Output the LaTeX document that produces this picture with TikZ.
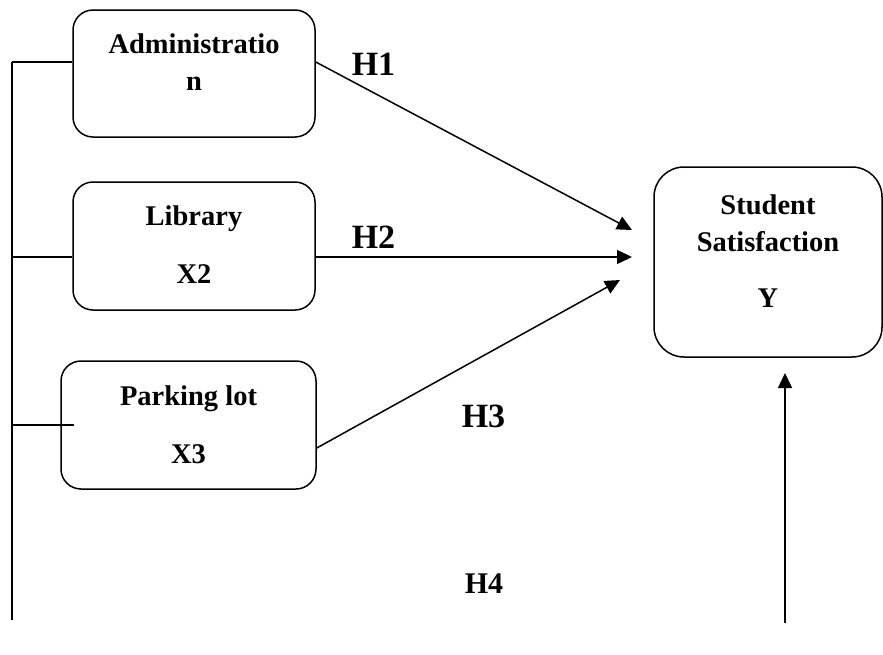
\documentclass[tikz,border=0pt]{standalone}
\usepackage{fontspec}
\setmainfont{Liberation Serif}
\usetikzlibrary{arrows.meta, positioning, calc}

\begin{document}
\begin{tikzpicture}[
    x=1pt, y=-1pt,
    box/.style={rectangle, draw=black, line width=1.5pt, rounded corners=20pt, inner sep=0pt},
    boxtext/.style={anchor=base, inner sep=0pt, font=\fontsize{28.5}{34}\selectfont\bfseries},
    hyp/.style={anchor=base, inner sep=0pt, font=\fontsize{34}{40}\selectfont\bfseries},
    line/.style={line width=1.5pt},
    arrow/.style={-{Triangle[length=15pt, width=14pt]}, line width=1.5pt}
]
    \useasboundingbox (0,0) rectangle (883,654);

    % Boxes
    \node[box, minimum width=242pt, minimum height=127pt] (adm) at (194,73.5) {};
    \node[box, minimum width=242pt, minimum height=128pt] (lib) at (194,246) {};
    \node[box, minimum width=255pt, minimum height=128pt] (park) at (188.5,425) {};
    \node[box, rounded corners=30pt, minimum width=228pt, minimum height=190pt] (sat) at (768,262) {};

    % Box texts
    \node[boxtext] (admtxt) at (194,53) {Administratio};
    \node[boxtext] (admtxtb) at (194,90) {n};
    \node[boxtext] (libtxt) at (194,225) {Library};
    \node[boxtext] (libvar) at (194,283) {X2};
    \node[boxtext] (parktxt) at (188.5,405) {Parking lot};
    \node[boxtext] (parkvar) at (188.5,463) {X3};
    \node[boxtext] (sattxt) at (768,214) {Student};
    \node[boxtext] (sattxtb) at (768,251) {Satisfaction};
    \node[boxtext] (satvar) at (768,307) {Y};

    % Hypothesis labels
    \node[hyp] (h1) at (373.5,75) {H1};
    \node[hyp] (h2) at (373.5,248) {H2};
    \node[hyp] (h3) at (483.5,427) {H3};
    \node[hyp, font=\fontsize{30}{36}\selectfont\bfseries] (h4) at (484,593) {H4};

    % Arrow ends
    \coordinate (tip1) at (632,230);
    \coordinate (tip2) at (632,257);
    \coordinate (tip3) at (620,280);
    \coordinate (h4foot) at (785,623);
    \coordinate (h4tip) at (785,373);

    % Arrows
    \draw[arrow] ([yshift=11.5pt]adm.east) -- (tip1);
    \draw[arrow] ([yshift=-11pt]lib.east) -- (tip2);
    \draw[arrow] ([yshift=-23pt]park.east) -- (tip3);
    \draw[arrow] (h4foot) -- (h4tip);

    % Left bus line
    \coordinate (bustop) at (12,62);
    \coordinate (busbot) at (12,620);
    \coordinate (s2) at ([yshift=-11pt]lib.west);
    \coordinate (s3) at ([xshift=14pt]park.west);
    \draw[line] (bustop) -- (busbot);
    \draw[line] (bustop) -- ([yshift=11.5pt]adm.west);
    \draw[line] (s2) -- (s2 -| bustop);
    \draw[line] (s3) -- (s3 -| bustop);
\end{tikzpicture}
\end{document}
